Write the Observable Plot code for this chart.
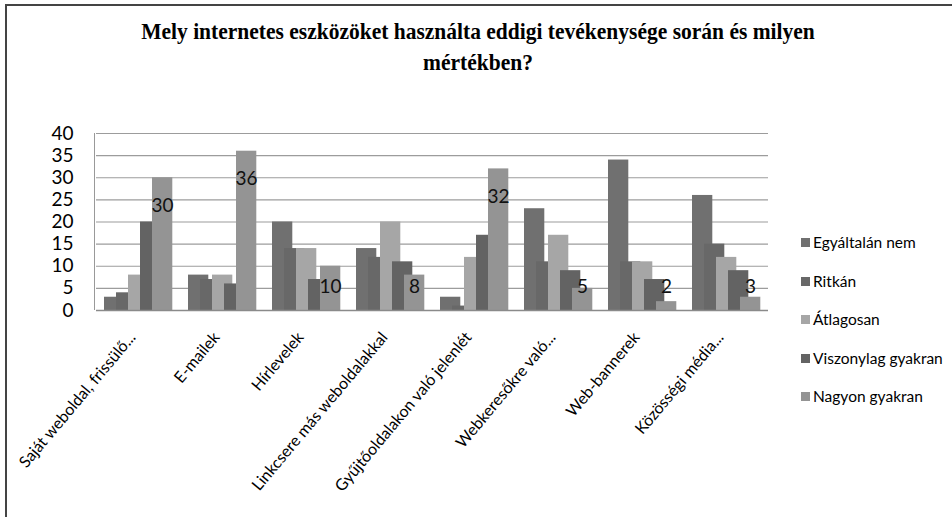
<!DOCTYPE html>
<html>
<head>
<meta charset="utf-8">
<script src="https://cdn.jsdelivr.net/npm/d3@7"></script>
<script src="https://cdn.jsdelivr.net/npm/@observablehq/plot@0.6"></script>
<style>
  html, body { margin: 0; padding: 0; background: #fff; }
  #wrap { position: relative; width: 952px; height: 517px; overflow: hidden; background: #fff; }
  #frame { position: absolute; left: 5px; top: 4px; right: -10px; bottom: -10px; border-top: 2px solid #444; border-left: 2px solid #444; }
  #title { position: absolute; left: 0; width: 956px; top: 17px; text-align: center; font-family: "Liberation Serif", "Times New Roman", serif; font-weight: bold; font-size: 21.5px; line-height: 27px; color: #000; transform: scale(1, 1.12); transform-origin: 50% 0; }
  #yline { position: absolute; left: 94px; top: 133px; width: 1px; height: 177px; background: #999; }
  #chart { position: absolute; left: 0; top: 0; }
  #legend { position: absolute; left: 801px; top: 233px; font-family: Lato, "Noto Sans", sans-serif; font-size: 15.5px; color: #000; }
  #legend .item { height: 38.6px; display: flex; align-items: flex-start; white-space: nowrap; }
  #legend .sw { width: 9px; height: 9px; margin-top: 5px; margin-right: 3px; }
</style>
</head>
<body>
<div id="wrap">
  <div id="frame"></div>
  <div id="chart"></div>
  <div id="yline"></div>
  <div id="title">Mely internetes eszközöket használta eddigi tevékenysége során és milyen<br>mértékben?</div>
  <div id="legend"></div>
</div>
<script>
const categories = [
  "Saját weboldal, frissülő...",
  "E-mailek",
  "Hírlevelek",
  "Linkcsere más weboldalakkal",
  "Gyűjtőoldalakon való jelenlét",
  "Webkeresőkre való...",
  "Web-bannerek",
  "Közösségi média..."
];
const seriesNames = ["Egyáltalán nem", "Ritkán", "Átlagosan", "Viszonylag gyakran", "Nagyon gyakran"];
const egyaltalanNem     = [3, 8, 20, 14, 3, 23, 34, 26];
const ritkan            = [4, 7, 14, 12, 1, 11, 11, 15];
const atlagosan         = [8, 8, 14, 20, 12, 17, 11, 12];
const viszonylagGyakran = [20, 6, 7, 11, 17, 9, 7, 9];
const nagyonGyakran     = [30, 36, 10, 8, 32, 5, 2, 3];
const yTicks = [0, 5, 10, 15, 20, 25, 30, 35, 40];
const seriesColors = ["#707070", "#686868", "#a6a6a6", "#636363", "#949494"];

const seriesValues = [egyaltalanNem, ritkan, atlagosan, viszonylagGyakran, nagyonGyakran];
const rows = [];
categories.forEach((c, i) => {
  seriesNames.forEach((s, j) => {
    rows.push({category: c, series: s, value: seriesValues[j][i]});
  });
});
const labelRows = rows.filter(d => d.series === "Nagyon gyakran")
  .map(d => ({...d, labelY: Math.max(d.value - 6.3, 5.4)}));

const chart = Plot.plot({
  width: 952,
  height: 517,
  marginLeft: 95,
  marginRight: 184,
  marginTop: 133,
  marginBottom: 207,
  style: {fontFamily: "Lato, 'Noto Sans', sans-serif", background: "transparent", color: "#000"},
  fx: {domain: categories, padding: 0},
  x: {domain: seriesNames, padding: 0, insetLeft: 7, insetRight: 16, axis: null},
  y: {domain: [0, 40]},
  color: {domain: seriesNames, range: seriesColors},
  marks: [
    Plot.ruleY(yTicks.filter(t => t > 0), {stroke: "#9c9c9c", strokeWidth: 1.2}),
    Plot.barY(rows, {fx: "category", x: "series", y: "value", fill: "series", insetRight: -8.3}),
    Plot.ruleY([0], {stroke: "#8a8a8a", strokeWidth: 1.5}),
    Plot.text(labelRows, {fx: "category", x: "series", y: "labelY", text: d => String(d.value), dx: 4, fontSize: 19, fill: "#111"}),
    Plot.axisY(yTicks, {tickSize: 0, tickPadding: 23, fontSize: 19, label: null}),
    Plot.axisFx({anchor: "bottom", tickSize: 0, tickPadding: 24, dx: -6, tickRotate: -50, fontSize: 16, label: null})
  ]
});
document.getElementById("chart").appendChild(chart);

const legend = document.getElementById("legend");
seriesNames.forEach((s, j) => {
  const item = document.createElement("div");
  item.className = "item";
  const sw = document.createElement("span");
  sw.className = "sw";
  sw.style.background = seriesColors[j];
  const t = document.createElement("span");
  t.textContent = s;
  item.appendChild(sw);
  item.appendChild(t);
  legend.appendChild(item);
});
</script>
</body>
</html>
